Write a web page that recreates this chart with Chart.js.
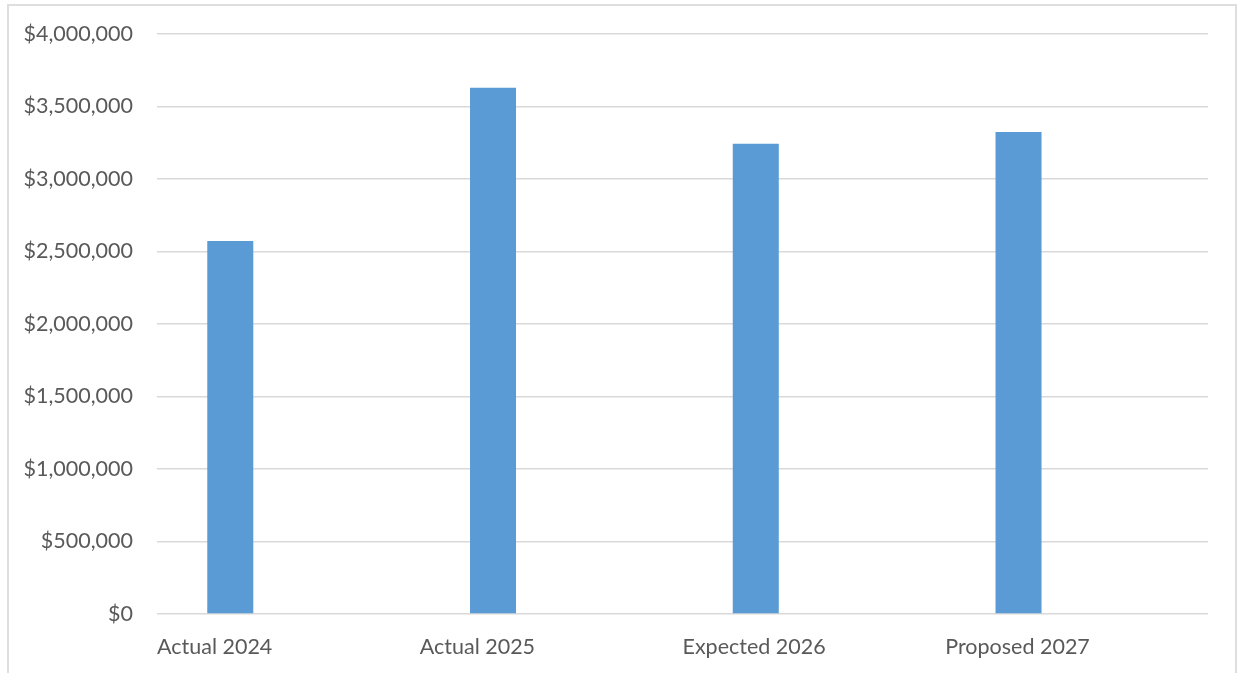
<!DOCTYPE html>
<html>
<head>
<meta charset="utf-8">
<title>Budget by Year</title>
<script src="https://cdn.jsdelivr.net/npm/chart.js@4/dist/chart.umd.min.js"></script>
<style>
  html, body { margin: 0; padding: 0; background: #ffffff; overflow: hidden; }
  #frame {
    position: absolute; left: 7px; top: 4px; width: 1226px; height: 700px;
    border: 2px solid #dedede; box-sizing: content-box;
  }
  #wrap { position: absolute; left: 0; top: 0; width: 1238px; height: 673px; }
</style>
</head>
<body>
<div id="frame"></div>
<div id="wrap"><canvas id="chart" width="1238" height="673"></canvas></div>
<script>
// Budget totals per year
const categories = ['Actual 2024', 'Actual 2025', 'Expected 2026', 'Proposed 2027'];
const budgetValues = [2572000, 3630000, 3243000, 3324000];
// second series of the workbook carries no values but keeps its slot in each group
const secondSeries = [null, null, null, null];
const yTicks = [0, 500000, 1000000, 1500000, 2000000, 2500000, 3000000, 3500000, 4000000];

const textColor = '#595959';
const gridColor = '#d9d9d9';
const fontFamily = 'Lato, "Open Sans", "Liberation Sans", sans-serif';

const money = v => '$' + Number(v).toLocaleString('en-US');

new Chart(document.getElementById('chart'), {
  type: 'bar',
  data: {
    labels: categories,
    datasets: [
      {
        label: 'Budget',
        data: budgetValues,
        backgroundColor: '#5b9bd5',
        borderWidth: 0,
        categoryPercentage: 0.8845,
        barPercentage: 0.396
      },
      {
        label: 'Series 2',
        data: secondSeries,
        backgroundColor: '#ed7d31',
        borderWidth: 0,
        categoryPercentage: 0.8845,
        barPercentage: 0.396
      }
    ]
  },
  options: {
    responsive: false,
    animation: false,
    devicePixelRatio: 1,
    layout: { padding: { left: 0, right: 30, top: 34, bottom: 0 } },
    plugins: {
      legend: { display: false },
      tooltip: { enabled: false }
    },
    scales: {
      x: {
        offset: true,
        grid: { display: false, drawTicks: false },
        border: { display: false },
        ticks: {
          color: textColor,
          font: { family: fontFamily, size: 21.5 },
          align: 'start',
          labelOffset: -131.4,
          padding: 20,
          maxRotation: 0,
          autoSkip: false
        },
        afterFit: s => { s.height = 59; s.paddingLeft = 0; s.paddingRight = 0; }
      },
      y: {
        min: yTicks[0],
        max: yTicks[yTicks.length - 1],
        afterBuildTicks: s => { s.ticks = yTicks.map(v => ({ value: v })); },
        grid: { color: gridColor, lineWidth: 1.5, drawTicks: false },
        border: { display: false },
        ticks: {
          color: textColor,
          font: { family: fontFamily, size: 21.5 },
          padding: 24,
          callback: v => money(v)
        },
        afterFit: s => { s.width = 157; s.paddingTop = 0; s.paddingBottom = 0; }
      }
    }
  }
});
</script>
</body>
</html>
